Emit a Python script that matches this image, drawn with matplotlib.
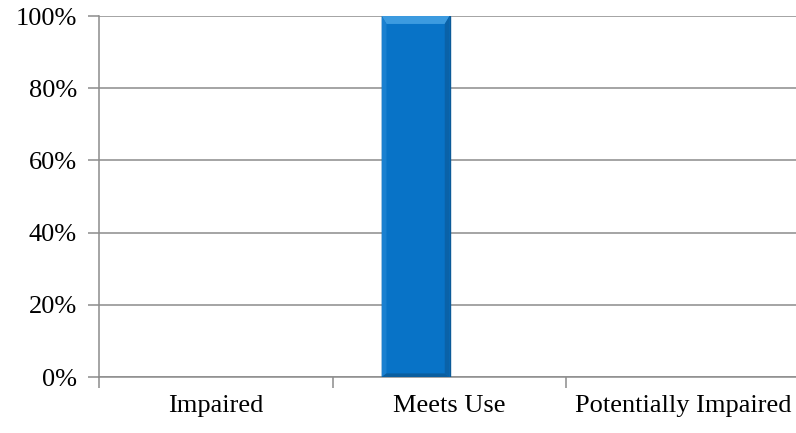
import numpy as np
import matplotlib.pyplot as plt
from matplotlib.ticker import FixedLocator, PercentFormatter

# --- data ---
categories = ["Impaired", "Meets Use", "Potentially Impaired"]
values = [0, 100, 0]          # percent
y_ticks = [0, 20, 40, 60, 80, 100]

# --- style ---
plt.rcParams["font.family"] = ["Liberation Serif", "DejaVu Serif"]
bar_face = "#0873C7"
bar_edge = "#0B5A98"
bar_top = "#3C9BE0"
grid_col = "#8C8C8C"

fig = plt.figure(figsize=(7.96, 4.33), dpi=100)
ax = fig.add_axes([0.1244, 0.1293, 0.8806, 0.8337])

x = np.arange(len(categories))
w = 0.29
# bar sits in the left half of its category slot (single series of a two-series group)
xpos = x - w / 2
bars = ax.bar(xpos, values, width=w, color=bar_face, edgecolor=bar_edge,
              linewidth=1.0, zorder=3)
# bevel shading; empty bars get no outline
for b, v in zip(bars, values):
    if v <= 0:
        b.set_linewidth(0)
        continue
    x0, bw = b.get_x(), b.get_width()
    ax.fill([x0, x0 + bw, x0 + bw * 0.93, x0 + bw * 0.07],
            [v, v, v - 2.2, v - 2.2], color=bar_top, zorder=4, lw=0)
    ax.fill([x0, x0 + bw * 0.07, x0 + bw * 0.07, x0],
            [v, v - 2.2, 1.0, 0], color="#1A80D0", zorder=4, lw=0)
    ax.fill([x0 + bw, x0 + bw * 0.93, x0 + bw * 0.93, x0 + bw],
            [v, v - 2.2, 1.0, 0], color="#0A62A8", zorder=4, lw=0)
    ax.fill([x0, x0 + bw, x0 + bw * 0.93, x0 + bw * 0.07],
            [0, 0, 1.0, 1.0], color="#0A5E9F", zorder=4, lw=0)

ax.set_xlim(-0.5, len(categories) - 0.5)
ax.set_ylim(0, 100)

ax.yaxis.set_major_locator(FixedLocator(y_ticks))
ax.yaxis.set_major_formatter(PercentFormatter(decimals=0))
ax.yaxis.grid(True, color=grid_col, linewidth=1.1, zorder=0)
ax.set_axisbelow(True)

ax.set_xticks(x)
ax.set_xticklabels(categories)
ax.set_xticks(np.arange(len(categories) + 1) - 0.5, minor=True)
ax.tick_params(axis="x", which="major", length=0, pad=13, labelsize=19)
ax.tick_params(axis="x", which="minor", length=8, color=grid_col, width=1.1)
ax.tick_params(axis="y", length=8, color=grid_col, width=1.1, pad=8,
               labelsize=19)

for s in ["top", "right"]:
    ax.spines[s].set_visible(False)
for s in ["left", "bottom"]:
    ax.spines[s].set_color(grid_col)
    ax.spines[s].set_linewidth(1.1)

fig.savefig("out.png", dpi=100)
